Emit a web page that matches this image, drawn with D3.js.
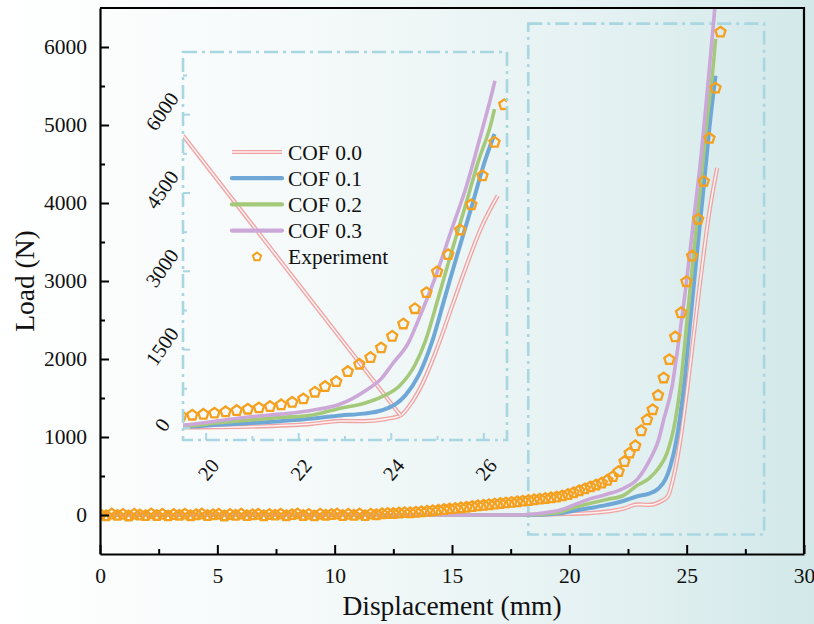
<!DOCTYPE html>
<html>
<head>
<meta charset="utf-8">
<script src="https://cdn.jsdelivr.net/npm/d3@7"></script>
<style>
  body { margin: 0; background: #fff; }
  svg { display: block; font-family: "Liberation Serif", "Times New Roman", serif; }
</style>
</head>
<body>
<svg id="chart" width="814" height="624"></svg>
<script>
// ---- Simulated load-displacement curves for each coefficient of friction ----
const cof00 = [[0,0],[18,0],[19.5,10],[20.9,25],[22.3,80],[22.9,135],[23.4,130],[23.9,175],[24.2,240],
  [24.45,500],[24.7,900],[25.0,1550],[25.3,2300],[25.6,3050],[25.95,3850],[26.3,4450]];
const cof01 = [[0,0],[18.2,0],[19.5,20],[20.2,55],[20.9,90],[21.6,130],[22.3,180],[22.9,240],[23.4,275],
  [23.8,340],[24.1,460],[24.3,620],[24.59,1006],[24.88,1649],[25.16,2506],[25.44,3364],[25.73,4220],
  [26.01,5077],[26.23,5630]];
const cof02 = [[0,0],[18.0,0],[19.5,30],[20.2,95],[20.9,150],[21.6,200],[22.3,250],[22.9,380],[23.4,470],
  [23.8,600],[24.17,800],[24.52,1221],[24.73,1649],[25.02,2506],[25.3,3364],[25.59,4220],[25.87,5077],
  [26.16,5848],[26.23,6105]];
const cof03 = [[0,0],[17.6,0],[19.5,55],[20.2,130],[20.9,210],[21.6,265],[22.3,340],[22.9,460],[23.45,720],
  [23.8,960],[24.02,1221],[24.38,1649],[24.59,2078],[24.97,2934],[25.30,3792],[25.63,4649],[25.90,5505],
  [26.16,6362],[26.24,6650]];
// straight return segment of the COF 0.0 run seen in the magnified view
const cof00Return = [[19.5,5600],[24.2,240]];

// ---- Experimental measurement ----
const expDisp = [0.02,0.26,0.50,0.74,0.98,1.22,1.46,1.70,1.94,2.18,2.42,2.66,2.90,3.14,3.38,3.62,3.86,4.10,
  4.34,4.58,4.82,5.06,5.30,5.54,5.78,6.02,6.26,6.50,6.74,6.98,7.22,7.46,7.70,7.94,8.18,8.42,8.66,8.90,9.14,
  9.38,9.62,9.86,10.10,10.34,10.58,10.82,11.06,11.30,11.54,11.78,12.02,12.26,12.50,12.74,12.98,13.22,13.46,
  13.70,13.94,14.18,14.42,14.66,14.90,15.14,15.38,15.62,15.86,16.10,16.34,16.58,16.82,17.06,17.30,17.54,
  17.78,18.02,18.26,18.50,18.74,18.98,19.22,19.46,19.70,19.94,20.18,20.42,20.66,20.90,21.14,21.38,21.62,
  21.86,22.10,22.35,22.57,22.81,23.06,23.31,23.55,23.78,24.02,24.26,24.51,24.76,24.99,25.23,25.49,25.73,
  25.97,26.23,26.44];
const expLoad = [5,-10,12,-5,8,-12,10,0,-8,14,-6,9,-11,6,-3,11,-9,4,13,-7,2,10,-12,7,-4,12,-8,3,9,-10,
  6,-2,11,-9,5,14,-6,8,-11,10,-3,6,12,-7,9,-4,13,-8,11,4,
  15,20,18,25,30,28,35,42,48,55,62,70,78,85,92,100,108,118,125,132,140,148,155,162,170,178,186,195,203,
  212,220,230,245,262,285,310,335,360,385,410,445,492,557,685,793,887,1080,1221,1350,1534,1757,1992,2284,
  2592,2991,3320,3792,4276,4829,5472,6191];

// ---- Axis ticks and labels ----
const xTicks = [0,5,10,15,20,25,30];
const xMinor = [2.5,7.5,12.5,17.5,22.5,27.5];
const yTicks = [0,1000,2000,3000,4000,5000,6000];
const yMinor = [500,1500,2500,3500,4500,5500];
const insetXTicks = [20,22,24,26];
const insetXMinor = [21,23,25];
const insetYTicks = [0,1500,3000,4500,6000];
const insetYMinor = [750,2250,3750,5250,6750];
const seriesNames = ["COF 0.0","COF 0.1","COF 0.2","COF 0.3","Experiment"];
// region of the main plot that is magnified in the inset
const zoomWindow = {x0: 18.25, x1: 28.3, y0: -250, y1: 6300};

const colors = {c0: "#f0a2a2", c1: "#6fa8d6", c2: "#a5c97a", c3: "#cba8d8", exp: "#f5a01e", box: "#a9d7e1"};
const serif = "Liberation Serif";

const svg = d3.select("#chart");
const W = 814, H = 624;
const defs = svg.append("defs");

// background wash: white on the left fading to pale teal on the right
const bg = defs.append("linearGradient").attr("id", "bgGrad").attr("x1", 0).attr("x2", 1).attr("y1", 0).attr("y2", 0);
bg.append("stop").attr("offset", "0%").attr("stop-color", "#ffffff");
bg.append("stop").attr("offset", "40%").attr("stop-color", "#f4f9f9");
bg.append("stop").attr("offset", "75%").attr("stop-color", "#e4f1f2");
bg.append("stop").attr("offset", "100%").attr("stop-color", "#d2e8e9");
svg.append("rect").attr("width", W).attr("height", H).attr("fill", "url(#bgGrad)");

// ---- Main plot ----
const plot = {left: 100, right: 804, top: 8, bottom: 554};
const x = d3.scaleLinear([0, 30], [plot.left, plot.right]);
const y = d3.scaleLinear([-500, 6500], [plot.bottom, plot.top]);

defs.append("clipPath").attr("id", "mainClip").append("rect")
  .attr("x", plot.left).attr("y", plot.top).attr("width", plot.right - plot.left).attr("height", plot.bottom - plot.top);

const pentagon = (r) => {
  const pts = d3.range(5).map(k => {
    const a = -Math.PI / 2 + k * 2 * Math.PI / 5;
    return [r * Math.cos(a), r * Math.sin(a)];
  });
  return "M" + pts.map(p => p[0].toFixed(2) + "," + p[1].toFixed(2)).join("L") + "Z";
};

const expData = expDisp.map((d, i) => [d, expLoad[i]]);

function drawSeries(g, sx, sy, withReturn) {
  const line = d3.line().x(d => sx(d[0])).y(d => sy(d[1])).curve(d3.curveMonotoneX);
  const straight = d3.line().x(d => sx(d[0])).y(d => sy(d[1]));
  // COF 0.0 as a double line: thick pink stroke with a pale core
  const dbl = (path) => {
    g.append("path").attr("d", path).attr("fill", "none").attr("stroke", colors.c0).attr("stroke-width", 4.2)
      .attr("stroke-linejoin", "miter");
    g.append("path").attr("d", path).attr("fill", "none").attr("stroke", "#ffffff").attr("stroke-opacity", 0.85)
      .attr("stroke-width", 1.6);
  };
  dbl(line(cof00));
  if (withReturn) dbl(straight(cof00Return));
  g.append("path").attr("d", line(cof01)).attr("fill", "none").attr("stroke", colors.c1).attr("stroke-width", 4);
  g.append("path").attr("d", line(cof02)).attr("fill", "none").attr("stroke", colors.c2).attr("stroke-width", 3.6);
  g.append("path").attr("d", line(cof03)).attr("fill", "none").attr("stroke", colors.c3).attr("stroke-width", 3.6);
  g.selectAll("path.exp").data(expData).join("path").attr("class", "exp")
    .attr("transform", d => `translate(${sx(d[0])},${sy(d[1])})`)
    .attr("d", pentagon(5.3)).attr("fill", "none").attr("stroke", colors.exp).attr("stroke-width", 2.3)
    .attr("stroke-linejoin", "miter");
}

// dash-dot box marking the magnified region
svg.append("rect")
  .attr("x", x(zoomWindow.x0)).attr("y", y(zoomWindow.y1))
  .attr("width", x(zoomWindow.x1) - x(zoomWindow.x0)).attr("height", y(zoomWindow.y0) - y(zoomWindow.y1))
  .attr("fill", "none").attr("stroke", colors.box).attr("stroke-width", 2.6).attr("stroke-dasharray", "14,5,3,5");

const mainG = svg.append("g").attr("clip-path", "url(#mainClip)");
drawSeries(mainG, x, y, false);

// axes with inward ticks
const xAxis = svg.append("g").attr("transform", `translate(0,${plot.bottom})`)
  .call(d3.axisBottom(x).tickValues(xTicks).tickSizeInner(-9).tickSizeOuter(0).tickPadding(14).tickFormat(d3.format("d")));
svg.append("g").attr("transform", `translate(0,${plot.bottom})`)
  .call(d3.axisBottom(x).tickValues(xMinor).tickSizeInner(-5).tickSizeOuter(0).tickFormat(""))
  .call(g => g.select(".domain").remove());
const yAxis = svg.append("g").attr("transform", `translate(${plot.left},0)`)
  .call(d3.axisLeft(y).tickValues(yTicks).tickSizeInner(-9).tickSizeOuter(0).tickPadding(13).tickFormat(d3.format("d")));
svg.append("g").attr("transform", `translate(${plot.left},0)`)
  .call(d3.axisLeft(y).tickValues(yMinor).tickSizeInner(-5).tickSizeOuter(0).tickFormat(""))
  .call(g => g.select(".domain").remove());

svg.selectAll(".tick line").attr("stroke", "#000").attr("stroke-width", 2);
svg.selectAll(".domain").attr("stroke", "#000").attr("stroke-width", 2.2);
xAxis.selectAll("text").attr("font-size", 21.5).attr("fill", "#111").attr("font-family", serif);
yAxis.selectAll("text").attr("font-size", 21.5).attr("fill", "#111").attr("font-family", serif);

// closing frame on top and right
svg.append("path")
  .attr("d", `M${plot.left},${plot.top}H${plot.right}V${plot.bottom}`)
  .attr("fill", "none").attr("stroke", "#000").attr("stroke-width", 2.2);

svg.append("text").attr("x", (plot.left + plot.right) / 2).attr("y", 615)
  .attr("text-anchor", "middle").attr("font-size", 27.5).attr("font-family", serif).attr("fill", "#111")
  .text("Displacement (mm)");
svg.append("text").attr("transform", `translate(34,${(plot.top + plot.bottom) / 2}) rotate(-90)`)
  .attr("text-anchor", "middle").attr("font-size", 27.5).attr("font-family", serif).attr("fill", "#111")
  .text("Load (N)");

// ---- Inset: magnified view ----
const inset = {left: 183, right: 507, top: 52, bottom: 440};
const ix = d3.scaleLinear([19.5, 26.5], [inset.left, inset.right]);
const iy = d3.scaleLinear([-230, 7200], [inset.bottom, inset.top]);

defs.append("clipPath").attr("id", "insetClip").append("rect")
  .attr("x", inset.left).attr("y", inset.top).attr("width", inset.right - inset.left).attr("height", inset.bottom - inset.top);

const insetG = svg.append("g").attr("clip-path", "url(#insetClip)");
drawSeries(insetG, ix, iy, true);

// inset ticks (inward, light blue)
const tickG = svg.append("g").attr("stroke", colors.box).attr("stroke-width", 2);
tickG.selectAll("line.ixM").data(insetXTicks).join("line")
  .attr("x1", d => ix(d)).attr("x2", d => ix(d)).attr("y1", inset.bottom).attr("y2", inset.bottom - 7);
tickG.selectAll("line.ixm").data(insetXMinor).join("line")
  .attr("x1", d => ix(d)).attr("x2", d => ix(d)).attr("y1", inset.bottom).attr("y2", inset.bottom - 4);
tickG.selectAll("line.iyM").data(insetYTicks).join("line")
  .attr("y1", d => iy(d)).attr("y2", d => iy(d)).attr("x1", inset.left).attr("x2", inset.left + 7);
tickG.selectAll("line.iym").data(insetYMinor).join("line")
  .attr("y1", d => iy(d)).attr("y2", d => iy(d)).attr("x1", inset.left).attr("x2", inset.left + 4);

svg.append("rect")
  .attr("x", inset.left).attr("y", inset.top)
  .attr("width", inset.right - inset.left).attr("height", inset.bottom - inset.top)
  .attr("fill", "none").attr("stroke", colors.box).attr("stroke-width", 2.6).attr("stroke-dasharray", "14,5,3,5");

svg.append("g").selectAll("text").data(insetXTicks).join("text")
  .attr("transform", d => `translate(${ix(d) + 4},${inset.bottom + 31}) rotate(-50)`)
  .attr("text-anchor", "middle").attr("dominant-baseline", "middle").attr("font-family", serif)
  .attr("font-size", 20.5).attr("fill", "#111").text(d => d);
svg.append("g").selectAll("text").data(insetYTicks).join("text")
  .attr("transform", d => `translate(${inset.left - 19},${iy(d) - 2}) rotate(-55)`)
  .attr("text-anchor", "middle").attr("dominant-baseline", "middle").attr("font-family", serif)
  .attr("font-size", 20.5).attr("fill", "#111").text(d => d);

// ---- Legend ----
const legend = svg.append("g").attr("transform", "translate(232,152)");
const rowH = 26.2;
const legendStyles = [
  {stroke: colors.c0, w: 4.2, core: true},
  {stroke: colors.c1, w: 4.2},
  {stroke: colors.c2, w: 4.2},
  {stroke: colors.c3, w: 4.2},
  {marker: true}
];
seriesNames.forEach((name, i) => {
  const row = legend.append("g").attr("transform", `translate(0,${i * rowH})`);
  const st = legendStyles[i];
  if (st.marker) {
    row.append("path").attr("transform", "translate(25,0)").attr("d", pentagon(4.3))
      .attr("fill", "none").attr("stroke", colors.exp).attr("stroke-width", 2);
  } else {
    row.append("line").attr("x1", 0).attr("x2", 50).attr("stroke", st.stroke).attr("stroke-width", st.w)
      .attr("stroke-linecap", st.core ? "butt" : "round");
    if (st.core) row.append("line").attr("x1", 0).attr("x2", 50).attr("stroke", "#fff")
      .attr("stroke-opacity", 0.85).attr("stroke-width", 1.6);
  }
  row.append("text").attr("x", 56).attr("y", 7.5).attr("font-size", 21.5).attr("font-family", serif)
    .attr("fill", "#111").text(name);
});
</script>
</body>
</html>
